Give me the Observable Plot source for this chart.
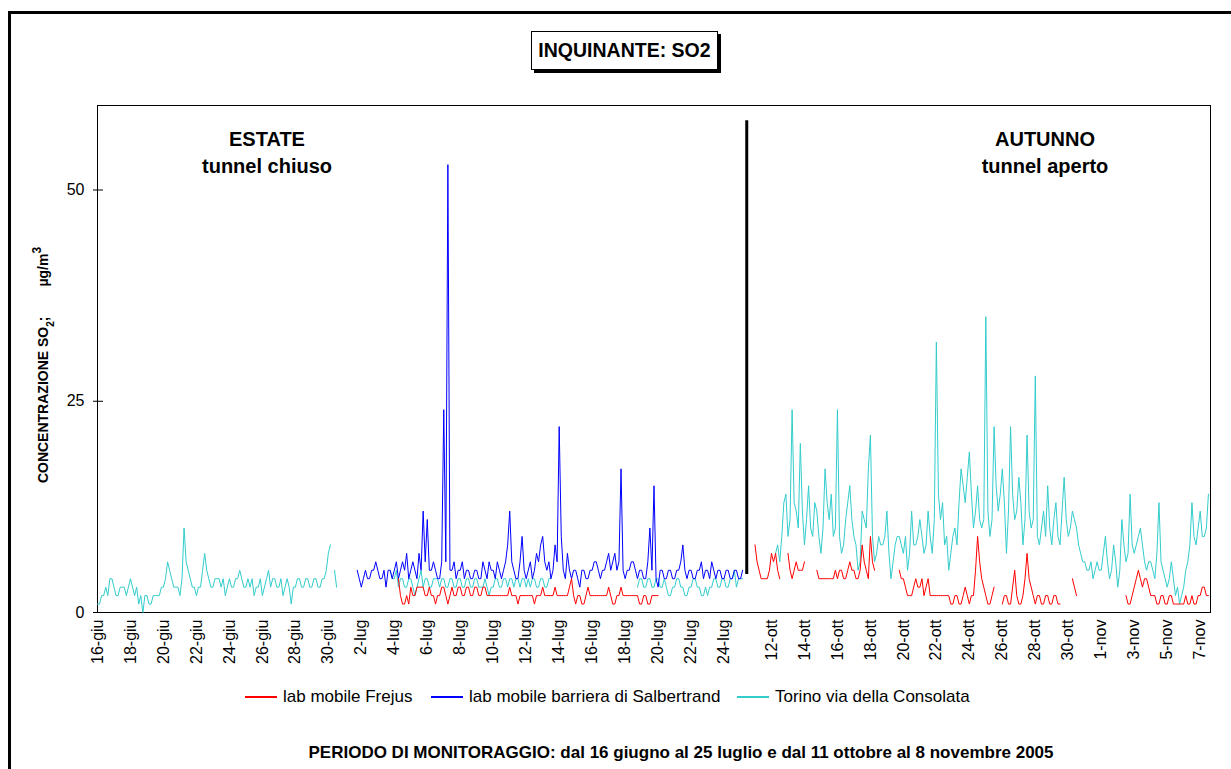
<!DOCTYPE html>
<html>
<head>
<meta charset="utf-8">
<script src="https://cdn.jsdelivr.net/npm/d3@7"></script>
<script src="https://cdn.jsdelivr.net/npm/@observablehq/plot@0.6"></script>
<style>
  html, body { margin: 0; padding: 0; background: #fff; overflow: hidden; }
  body { width: 1231px; height: 769px; position: relative; font-family: "Liberation Sans", Arial, sans-serif; color: #000; }
  #cornice { position: absolute; left: 8px; top: 11px; width: 1300px; height: 900px; border: 3px solid #000; box-sizing: border-box; }
  #chart { position: absolute; left: 0; top: 0; }
  #titolo { position: absolute; left: 531px; top: 31px; width: 185px; height: 37px; border: 1px solid #000; box-shadow: 3px 3px 0 #000; background: #fff;
            font-weight: bold; font-size: 19.5px; display: flex; align-items: center; justify-content: center; }
  .nota { position: absolute; width: 300px; text-align: center; font-weight: bold; font-size: 20px; line-height: 27px; }
  #legenda { position: absolute; top: 687px; left: 0; width: 1231px; height: 20px; font-size: 17px; }
  .voce { position: absolute; top: 0; display: flex; align-items: center; white-space: nowrap; }
  .campione { display: inline-block; width: 32px; height: 2px; margin-right: 6px; }
  #didascalia { position: absolute; top: 743px; left: 0; width: 1362px; text-align: center; font-weight: bold; font-size: 17px; }
</style>
</head>
<body>
<div id="cornice"></div>
<div id="chart"></div>
<div id="titolo">INQUINANTE: SO2</div>
<div class="nota" style="left:117px; top:126px;">ESTATE<br>tunnel chiuso</div>
<div class="nota" style="left:895px; top:126px;">AUTUNNO<br>tunnel aperto</div>
<div id="legenda"></div>
<div id="didascalia">PERIODO DI MONITORAGGIO: dal 16 giugno al 25 luglio e dal 11 ottobre al 8 novembre 2005</div>
<script>
// Serie: concentrazione SO2 (µg/m³), un campione ogni 3 ore.
// Ogni tratto continuo: [indice del primo campione, valori]
const serie = ["lab mobile Frejus", "lab mobile barriera di Salbertrand", "Torino via della Consolata"];
const colori = ["#ff0000", "#0000ff", "#33cccc"];

// ESTATE: campione 0 = 16 giugno 00:00
const consolataEstate = [
  [0, [1,1, 2,2, 3,2, 4,4, 3,2, 2,3, 3,3, 2,3, 4,3, 2,3,
       1,2, 0,2, 2,1, 1,2, 2,2, 2,3, 3,4, 6,5, 4,3, 3,3,
       2,4, 10,6, 5,4, 3,3, 2,3, 3,5, 7,5, 4,3, 3,4, 4,4,
       3,4, 2,3, 4,3, 3,4, 4,5, 4,3, 3,4, 3,4, 2,3, 3,4,
       2,3, 4,5, 3,4, 4,3, 3,4, 2,3, 4,3, 1,3, 3,4, 4,3,
       3,4, 4,3, 3,4, 4,3, 3,4, 4,5, 7,8]],
  [115, [5,3]],
  [142, [5,4, 4,5, 3,4, 4,3, 3,4, 4,3, 2,3, 4,5, 3,4,
         4,3, 3,4, 4,4, 3,4, 4,3, 3,4, 4,3, 3,4, 4,3, 3,4,
         4,3, 3,4, 4,3, 3,3, 4,3, 2,3, 3,4, 4,3, 3,4, 4,3,
         4,4, 3,4, 4,3, 4,4, 3,4, 3,4, 4,3, 3,4, 4,3, 3,4, 4]],
  [262, [3,4, 4,3, 3,4, 4,3, 3,4, 4,3, 3,4, 3,2, 2,3,
         3,4, 4,3, 3,2, 2,3, 3,4, 4,3, 3,2, 2,3, 2,3, 3,4,
         4,3, 3,4, 4,3, 3,4, 4,5, 3,4, 4,4]]
];
const salbertrandEstate = [
  [126, [5,4, 3,4, 5,4, 4,5, 5,6, 5,4, 4,5, 3,5, 5,4, 5,6,
         4,5, 6,5, 7,4, 5,6, 5,4, 7,5, 12,6, 11,5, 5,6, 5,4,
         4,6, 24,6, 53,5, 5,6, 4,5, 5,6, 4,5, 5,4, 4,5, 5,4,
         4,6, 5,4, 6,5, 5,4, 6,5, 4,5, 6,8, 12,6, 5,4, 4,6,
         9,5, 4,5, 6,4, 5,7, 6,8, 9,6, 5,6, 4,5, 8,6, 22,9,
         5,4, 7,5, 4,5, 5,4, 3,5, 5,4, 4,5, 5,6, 6,5, 4,5,
         5,6, 7,5, 6,7, 5,6, 17,5, 4,5, 5,6, 6,5, 4,5, 5,4,
         4,6, 10,5, 15,4, 3,5, 5,4, 4,5, 5,4, 4,5, 5,6, 8,5,
         4,5, 5,4, 4,5, 5,6, 4,5, 5,4, 6,5, 4,5, 5,4, 4,5,
         5,4, 4,5, 5,4, 4,5]]
];
const frejusEstate = [
  [146, [4,2, 1,1, 2,1, 3,2, 2,3, 3,3, 3,2, 2,3, 2,2, 1,2,
         2,3, 3,2, 1,2, 3,2, 2,3, 3,2, 2,3, 3,2, 2,3, 3,2,
         2,3, 3,2, 2,2, 2,2, 2,2, 2,2, 2,2, 3,2, 2,2, 1,2,
         2,2, 2,2, 2,2, 1,2, 2,2, 3,2, 2,2, 2,2, 3,2, 2,2,
         2,2, 2,3, 4,2, 1,2, 2,1, 1,2, 3,2, 2,2, 2,2, 2,2,
         2,2, 3,2, 1,1, 2,2, 3,2, 2,2, 2,2, 2,2, 2,1, 1,2,
         2,1, 1,2, 2,2, 2]]
];

// AUTUNNO: campione 0 del periodo = 11 ottobre 00:00
const consolataAutunno = [
  [10, [7,8, 6,9, 13,14, 9,11, 24,13, 12,10, 20,12, 8,11, 15,10, 9,13,
        12,9, 7,10, 17,13, 11,14, 9,10, 24,9, 7,8, 11,13, 15,11, 9,8,
        5,6, 12,11, 10,17, 21,9, 6,7, 9,8, 8,9, 12,7, 4,6, 8,9,
        9,8, 7,9, 5,7, 12,8, 8,9, 11,9, 7,8, 12,9, 7,11, 32,14,
        11,13, 8,9, 5,7, 9,10, 8,13, 17,15, 13,16, 19,14, 10,12, 15,11,
        10,11, 35,12, 9,11, 22,15, 12,14, 17,13, 7,12, 22,14, 11,12, 16,13,
        8,11, 21,12, 10,11, 28,9, 8,10, 12,9, 15,10, 8,11, 13,9, 8,12,
        16,11, 9,10, 12,11, 10,8, 7,6, 6,5, 5,6, 4,5, 6,5, 5,7,
        9,6, 4,5, 8,6, 3,5, 11,8, 6,7, 14,8, 7,8, 9,10, 8,6,
        5,6, 6,5, 4,7, 13,6, 5,4, 3,4, 6,4, 2,3, 1,2, 3,5,
        6,8, 13,9, 8,10, 12,9, 9,10, 14]]
];
const frejusAutunno = [
  [0,   [8,6,5,4,4,4,4,5,7,6,7,5,4]],
  [16,  [7,5,4,5,6,5,5,5,6]],
  [30,  [5,4,4,4,4,4,4,4,4,5,4,5,5,4,4,5,6,5,5,4,4,5,8,6,5,4,9,6,5]],
  [70,  [5,4,4,3,2,2,2,3,4,3,3,4,2,3,4,2,2,2,2,2,2,2,2,2,2,1,1,2,2,1,1,2,3,2,1,2,2,5,9,6,4,3,2,1,1,2,3]],
  [120, [1,2,2,1,1,3,5,2,1,1,2,4,7,4,3,2,1,2,2,1,1,2,2,1,1,2,2,1,1]],
  [154, [4,3,2]],
  [180, [2,1,1,2,3,4,5,4,3,4,4,3,2,2,2,1,1,2,2,1,1,2,2,1,1,1,1,1,1,2,1,1,2,1,1,2,2,3,3,2,2]]
];

// Etichette dell'asse x
const etichetteEstate = ["16-giu","18-giu","20-giu","22-giu","24-giu","26-giu","28-giu","30-giu","2-lug","4-lug",
  "6-lug","8-lug","10-lug","12-lug","14-lug","16-lug","18-lug","20-lug","22-lug","24-lug"];
const giorniEstate = [0,2,4,6,8,10,12,14,16,18,20,22,24,26,28,30,32,34,36,38];
const etichetteAutunno = ["12-ott","14-ott","16-ott","18-ott","20-ott","22-ott","24-ott","26-ott","28-ott","30-ott",
  "1-nov","3-nov","5-nov","7-nov"];
const giorniAutunno = [1,3,5,7,9,11,13,15,17,19,21,23,25,27];
const tickY = [0, 25, 50];

const CAMPIONI_GIORNO = 8;
const INIZIO_AUTUNNO = 319;   // posizione del primo campione autunnale sull'asse a categorie
const FINE_ASSE = 540;

function righe(tratti, offset, periodo) {
  return tratti.flatMap(([inizio, valori], t) =>
    valori.map((v, k) => ({i: offset + inizio + k, v, tratto: periodo + t})));
}
const dati = {
  "Torino via della Consolata": [...righe(consolataEstate, 0, "E"), ...righe(consolataAutunno, INIZIO_AUTUNNO, "A")],
  "lab mobile barriera di Salbertrand": righe(salbertrandEstate, 0, "E"),
  "lab mobile Frejus": [...righe(frejusEstate, 0, "E"), ...righe(frejusAutunno, INIZIO_AUTUNNO, "A")]
};

const posTick = [...giorniEstate.map(g => g * CAMPIONI_GIORNO), ...giorniAutunno.map(g => INIZIO_AUTUNNO + g * CAMPIONI_GIORNO)];
const etichetta = new Map(posTick.map((p, k) => [p, [...etichetteEstate, ...etichetteAutunno][k]]));
const separatore = INIZIO_AUTUNNO - 4;

const ordine = [2, 1, 0];
const chart = Plot.plot({
  width: 1231, height: 769,
  marginLeft: 97, marginRight: 21, marginTop: 105, marginBottom: 157,
  x: {domain: [0, FINE_ASSE]},
  y: {domain: [0, 60]},
  style: {background: "transparent", fontFamily: "'Liberation Sans', Arial, sans-serif", color: "#000"},
  marks: [
    Plot.frame({stroke: "#000", strokeWidth: 1}),
    Plot.axisY({ticks: tickY, tickSize: 10, dx: 6, tickPadding: 9, fontSize: 16, label: null, stroke: "#000"}),
    Plot.axisX({ticks: posTick, tickFormat: d => etichetta.get(d), tickRotate: -90, tickSize: 0, tickPadding: 7, fontSize: 16, label: null}),
    ...ordine.map(s => Plot.line(dati[serie[s]], {x: "i", y: "v", z: "tratto", stroke: colori[s], strokeWidth: 1})),
    Plot.ruleX([separatore], {y1: 4.5, y2: 58.2, stroke: "#000", strokeWidth: 3})
  ]
});
document.getElementById("chart").appendChild(chart);

// Titolo asse y con pedice e apice
const svg = d3.select(chart);
const lab = svg.append("text")
  .attr("transform", "translate(48,365) rotate(-90)")
  .attr("text-anchor", "middle")
  .style("font-family", "'Liberation Sans', Arial, sans-serif")
  .style("font-weight", "bold").style("font-size", "14px").attr("fill", "#000");
lab.append("tspan").text("CONCENTRAZIONE SO");
lab.append("tspan").attr("baseline-shift", "sub").style("font-size", "10px").text("2");
lab.append("tspan").text(";");
lab.append("tspan").attr("dx", 30).text("µg/m");
lab.append("tspan").attr("baseline-shift", "super").style("font-size", "12px").text("3");

// Legenda
const posLegenda = [245, 431, 737];
const legenda = d3.select("#legenda");
serie.forEach((s, k) => {
  const v = legenda.append("div").attr("class", "voce").style("left", posLegenda[k] + "px");
  v.append("span").attr("class", "campione").style("background", colori[k]);
  v.append("span").text(s);
});
</script>
</body>
</html>
